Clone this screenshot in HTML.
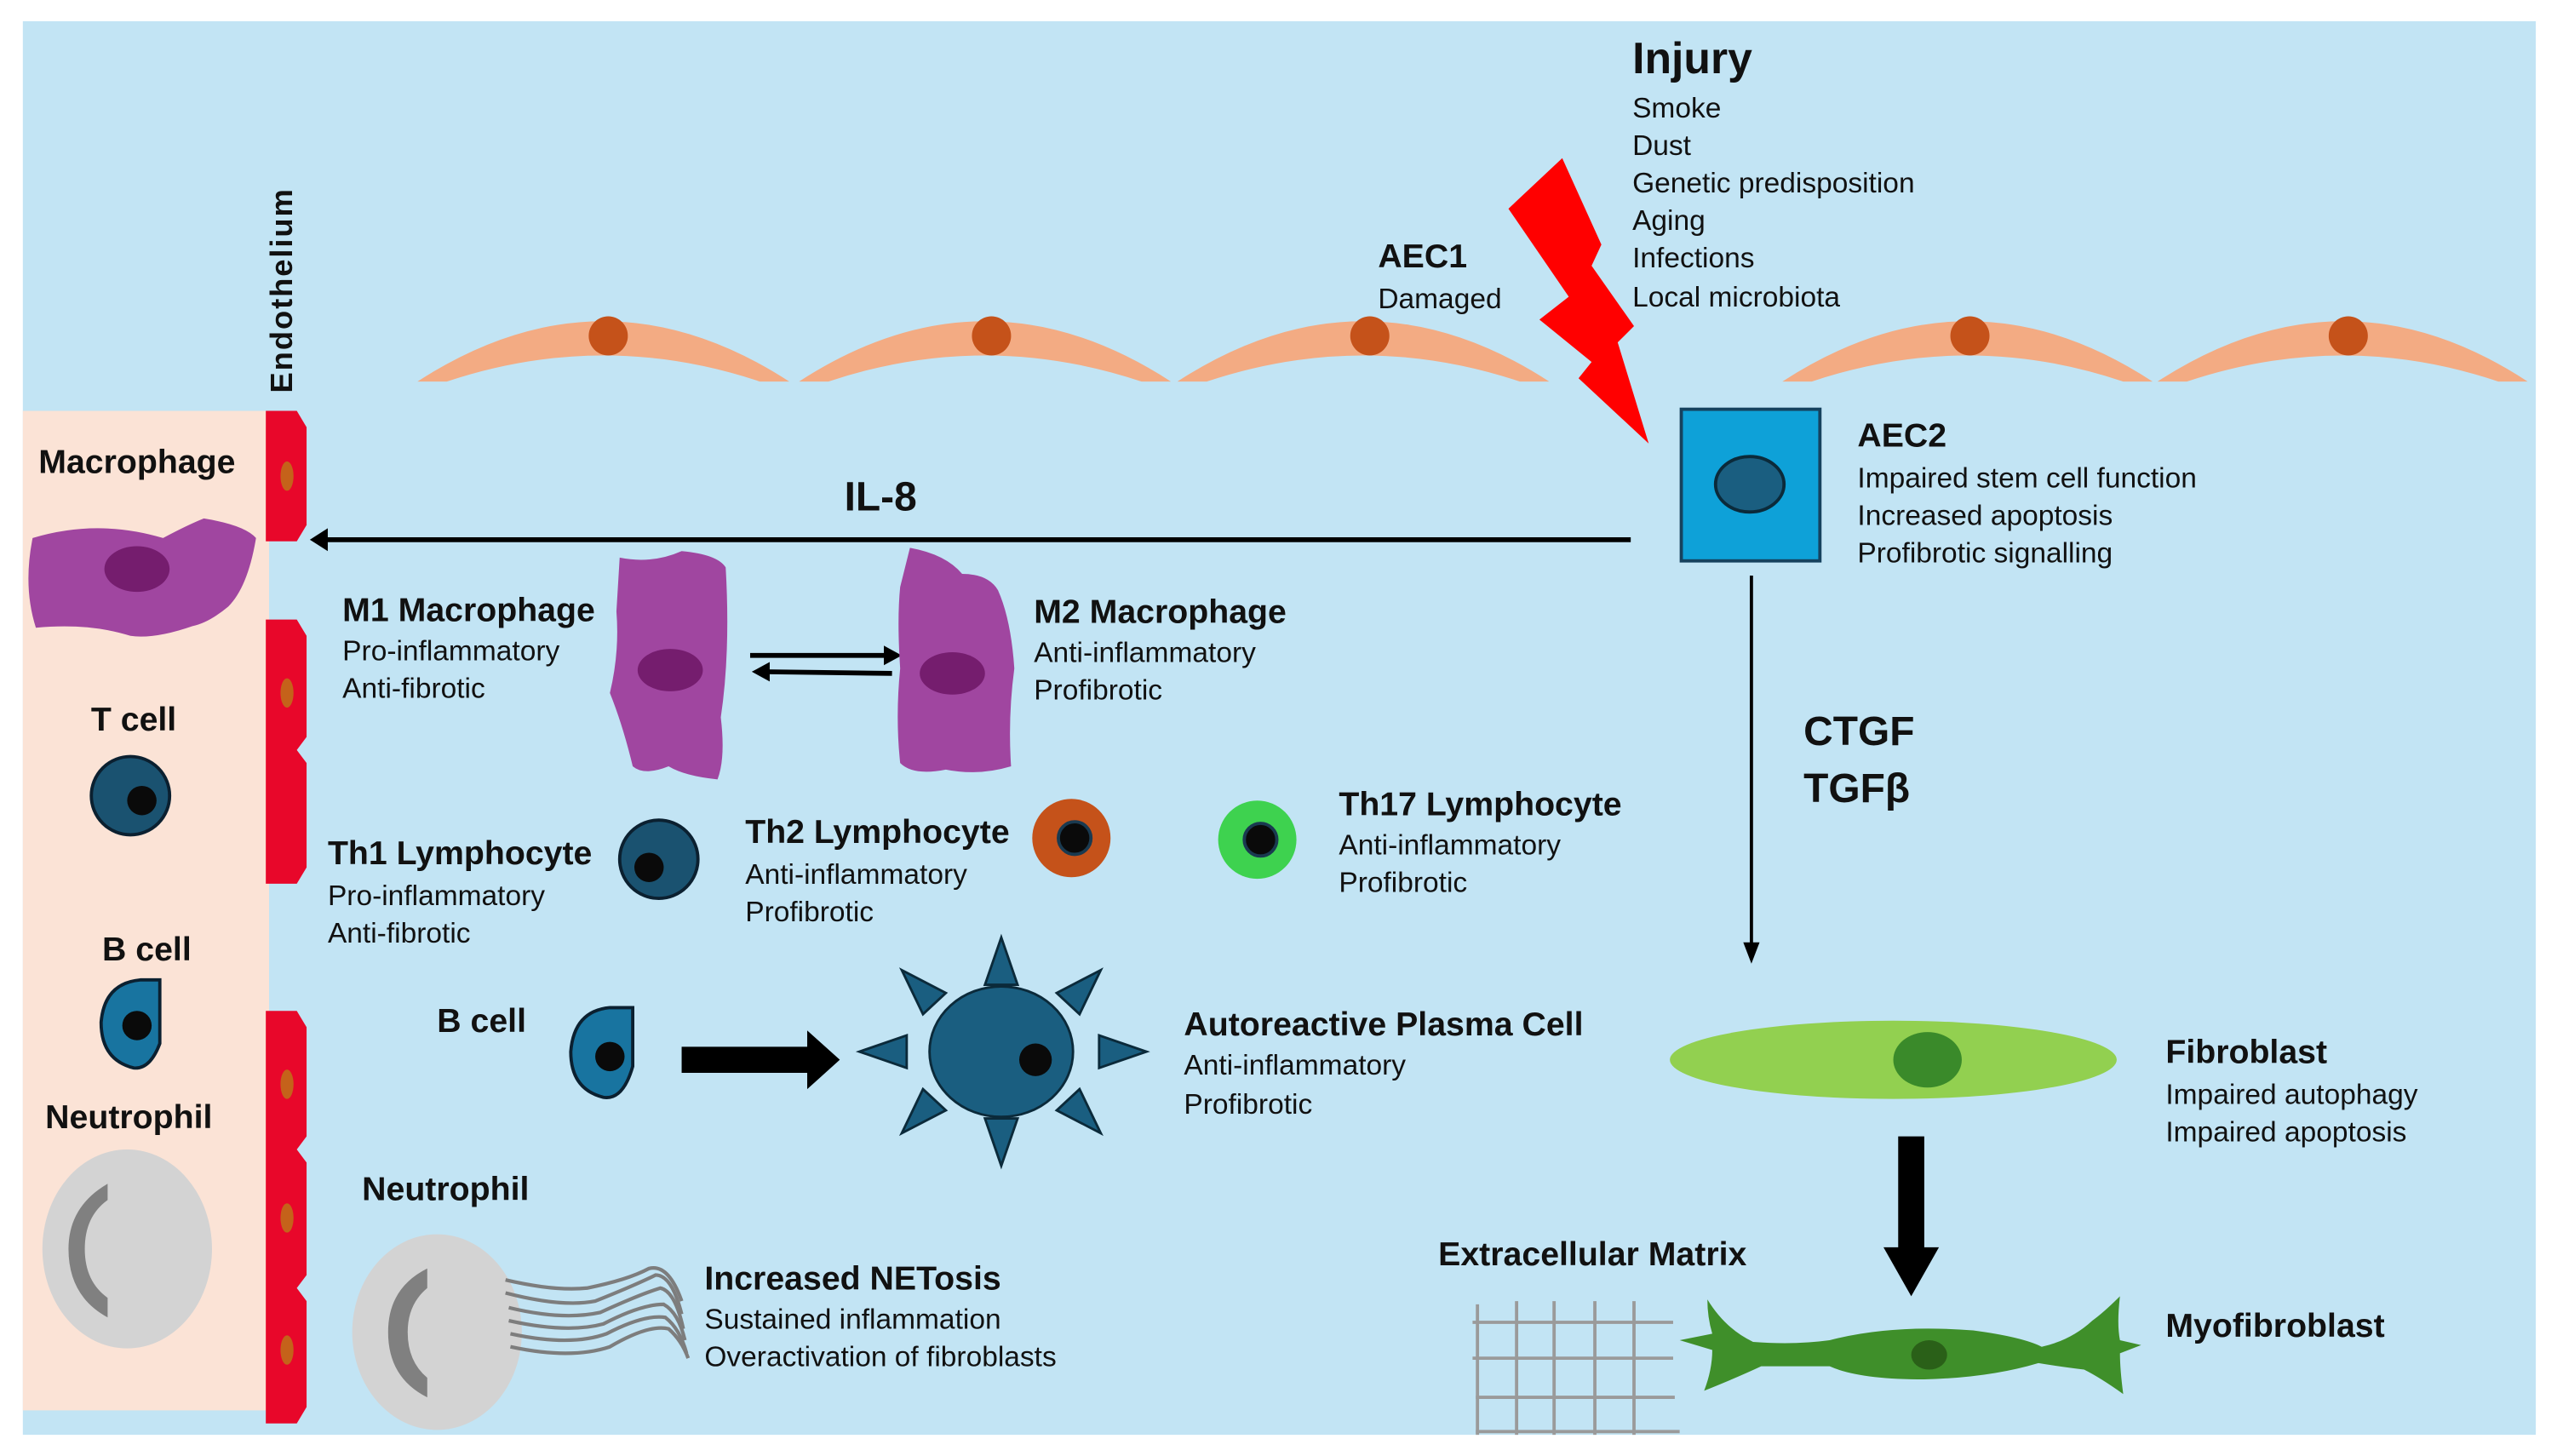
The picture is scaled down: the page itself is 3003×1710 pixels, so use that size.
<!DOCTYPE html>
<html><head><meta charset="utf-8"><style>
html,body{margin:0;padding:0;background:#fff;}
svg{display:block;}
text{font-family:"Liberation Sans",sans-serif;fill:#111;}
.b{font-weight:bold;font-size:20.5px;}
.t{font-size:17.5px;}
</style></head><body>
<svg width="3003" height="1710" viewBox="0 0 1568 893" preserveAspectRatio="none" xmlns="http://www.w3.org/2000/svg">
<rect x="0" y="0" width="1568" height="893" fill="#fff"/>
<rect x="14" y="13" width="1541" height="867" fill="#c2e4f4"/>
<rect x="14" y="252" width="151" height="613" fill="#fbe3d6"/>
<g fill="#e8072a">
<polygon points="163,252 182,252 188,262 188,322 182,332 163,332"/>
<polygon points="163,380 182,380 188,390 188,452 182,460 188,468 188,532 182,542 163,542"/>
<polygon points="163,620 182,620 188,630 188,697 182,705 188,713 188,782 182,790 188,798 188,863 182,873 163,873"/>
</g>
<g fill="#c5621a">
<ellipse cx="176" cy="292" rx="4" ry="9"/><ellipse cx="176" cy="425" rx="4" ry="9"/>
<ellipse cx="176" cy="665" rx="4" ry="9"/><ellipse cx="176" cy="747" rx="4" ry="9"/><ellipse cx="176" cy="828" rx="4" ry="9"/>
</g>
<text transform="translate(179,241) rotate(-90)" style="font-weight:bold;font-size:19px;letter-spacing:1px">Endothelium</text>
<g fill="#f3ab83">
<path d="M256,234 Q370,160 484,234 L466,234 Q370,202 274,234 Z"/>
<path d="M490,234 Q604,160 718,234 L700,234 Q604,202 508,234 Z"/>
<path d="M722,234 Q836,160 950,234 L932,234 Q836,202 740,234 Z"/>
<path d="M1093,234 Q1207,160 1320,234 L1302,234 Q1207,202 1111,234 Z"/>
<path d="M1323,234 Q1437,160 1550,234 L1532,234 Q1437,202 1341,234 Z"/>
</g>
<g fill="#c5521a">
<circle cx="373" cy="206" r="12"/><circle cx="608" cy="206" r="12"/><circle cx="840" cy="206" r="12"/><circle cx="1208" cy="206" r="12"/><circle cx="1440" cy="206" r="12"/>
</g>
<polygon points="958,97 925,128 962,182 944,196 976,222 968,232 1011,272 992,210 1002,200 976,163 982,150" fill="#ff0000"/>
<text x="1001" y="45" style="font-weight:bold;font-size:27px">Injury</text>
<g class="t"><text x="1001" y="72">Smoke</text><text x="1001" y="95">Dust</text><text x="1001" y="118">Genetic predisposition</text><text x="1001" y="141">Aging</text><text x="1001" y="164">Infections</text><text x="1001" y="188">Local microbiota</text></g>
<text x="845" y="164" class="b">AEC1</text><text x="845" y="189" class="t">Damaged</text>
<rect x="1031" y="251" width="85" height="93" fill="#0ea1d8" stroke="#16425e" stroke-width="2"/>
<ellipse cx="1073" cy="297" rx="21" ry="17" fill="#1a5e80" stroke="#0b2a3a" stroke-width="2"/>
<text x="1139" y="274" class="b">AEC2</text>
<g class="t"><text x="1139" y="299">Impaired stem cell function</text><text x="1139" y="322">Increased apoptosis</text><text x="1139" y="345">Profibrotic signalling</text></g>
<line x1="198" y1="331" x2="1000" y2="331" stroke="#000" stroke-width="3"/>
<polygon points="190,331 201,324 201,338" fill="#000"/>
<text x="540" y="313" text-anchor="middle" style="font-weight:bold;font-size:25px">IL-8</text>
<line x1="1074" y1="353" x2="1074" y2="582" stroke="#000" stroke-width="2"/>
<polygon points="1074,591 1069,578 1079,578" fill="#000"/>
<text x="1106" y="457" style="font-weight:bold;font-size:25px">CTGF</text><text x="1106" y="492" style="font-weight:bold;font-size:25px">TGFβ</text>
<text x="84" y="290" class="b" text-anchor="middle">Macrophage</text>
<path d="M20,330 Q60,318 100,330 Q115,322 125,318 Q150,322 157,330 Q152,360 140,372 Q128,382 118,384 Q95,392 80,390 Q55,382 22,385 Q14,360 20,330 Z" fill="#a046a0"/>
<ellipse cx="84" cy="349" rx="20" ry="14" fill="#751d6e"/>
<text x="82" y="448" class="b" text-anchor="middle">T cell</text>
<circle cx="80" cy="488" r="24" fill="#1a5270" stroke="#0b2030" stroke-width="2"/><circle cx="87" cy="491" r="9" fill="#0a0a0a"/>
<text x="90" y="589" class="b" text-anchor="middle">B cell</text>
<path d="M98,601 L98,640 Q92,656 82,655 Q62,650 62,627 Q64,603 86,601 Z" fill="#1874a0" stroke="#0b2030" stroke-width="2"/>
<circle cx="84" cy="629" r="9" fill="#0a0a0a"/>
<text x="79" y="692" class="b" text-anchor="middle">Neutrophil</text>
<ellipse cx="78" cy="766" rx="52" ry="61" fill="#d3d3d3"/>
<path d="M66,726 Q42,740 42,766 Q42,795 66,808 L66,796 Q52,786 52,766 Q52,746 66,736 Z" fill="#808080"/>
<text x="210" y="381" class="b">M1 Macrophage</text>
<g class="t"><text x="210" y="405">Pro-inflammatory</text><text x="210" y="428">Anti-fibrotic</text></g>
<path d="M380,342 Q400,346 418,338 Q440,340 445,348 Q448,400 442,440 Q445,465 440,478 Q420,476 410,470 Q395,476 388,470 Q382,445 374,425 Q380,400 378,375 Z" fill="#a046a0"/>
<ellipse cx="411" cy="411" rx="20" ry="13" fill="#751d6e"/>
<line x1="460" y1="402" x2="545" y2="402" stroke="#000" stroke-width="3"/><polygon points="553,402 542,396 542,408" fill="#000"/>
<line x1="469" y1="412" x2="547" y2="413" stroke="#000" stroke-width="3"/><polygon points="461,412 472,406 472,418" fill="#000"/>
<path d="M558,336 Q580,340 590,352 Q606,352 612,362 Q620,380 622,410 Q618,440 620,470 Q600,476 580,472 Q560,476 552,468 Q549,440 552,410 Q550,380 552,360 Z" fill="#a046a0"/>
<ellipse cx="584" cy="413" rx="20" ry="13" fill="#751d6e"/>
<text x="634" y="382" class="b">M2 Macrophage</text>
<g class="t"><text x="634" y="406">Anti-inflammatory</text><text x="634" y="429">Profibrotic</text></g>
<text x="201" y="530" class="b">Th1 Lymphocyte</text>
<g class="t"><text x="201" y="555">Pro-inflammatory</text><text x="201" y="578">Anti-fibrotic</text></g>
<circle cx="404" cy="527" r="24" fill="#1a5270" stroke="#0b2030" stroke-width="2"/><circle cx="398" cy="532" r="9" fill="#0a0a0a"/>
<text x="457" y="517" class="b">Th2 Lymphocyte</text>
<g class="t"><text x="457" y="542">Anti-inflammatory</text><text x="457" y="565">Profibrotic</text></g>
<circle cx="657" cy="514" r="24" fill="#c5521a"/><circle cx="659" cy="514" r="10" fill="#0a0a0a" stroke="#1a3a50" stroke-width="2"/>
<circle cx="771" cy="515" r="24" fill="#3ed24f"/><circle cx="773" cy="515" r="10" fill="#0a0a0a" stroke="#1a3a50" stroke-width="2"/>
<text x="821" y="500" class="b">Th17 Lymphocyte</text>
<g class="t"><text x="821" y="524">Anti-inflammatory</text><text x="821" y="547">Profibrotic</text></g>
<text x="268" y="633" class="b">B cell</text>
<path d="M388,618 L388,654 Q382,675 370,673 Q350,668 350,645 Q352,620 374,618 Z" fill="#1874a0" stroke="#0b2030" stroke-width="2"/>
<circle cx="374" cy="648" r="9" fill="#0a0a0a"/>
<polygon points="418,642 495,642 495,632 515,650 495,668 495,658 418,658" fill="#000"/>
<g fill="#1a5e80" stroke="#0b2a3a" stroke-width="1.5">
<polygon points="614,575 604,604 624,604"/><polygon points="614,715 604,686 624,686"/>
<polygon points="527,645 556,635 556,655"/><polygon points="703,645 674,635 674,655"/>
<polygon points="553,595 580,609 566,622"/><polygon points="675,595 648,609 662,622"/>
<polygon points="553,695 580,681 566,668"/><polygon points="675,695 648,681 662,668"/>
<ellipse cx="614" cy="645" rx="44" ry="40"/>
</g>
<circle cx="635" cy="650" r="10" fill="#0a0a0a"/>
<text x="726" y="635" class="b">Autoreactive Plasma Cell</text>
<g class="t"><text x="726" y="659">Anti-inflammatory</text><text x="726" y="683">Profibrotic</text></g>
<text x="222" y="736" class="b">Neutrophil</text>
<ellipse cx="268" cy="817" rx="52" ry="60" fill="#d3d3d3"/>
<path d="M262,778 Q238,790 238,817 Q238,845 262,857 L262,845 Q250,835 250,817 Q250,800 262,790 Z" fill="#808080"/>
<g fill="none" stroke="#7d7d7d" stroke-width="2.2">
<path d="M310,785 Q340,792 360,790 Q385,785 398,778 Q410,775 418,798"/>
<path d="M310,793 Q345,802 365,798 Q390,788 402,782 Q412,782 418,806"/>
<path d="M312,802 Q345,810 368,805 Q392,794 405,790 Q414,792 419,815"/>
<path d="M312,810 Q348,818 370,812 Q393,800 407,800 Q416,805 420,822"/>
<path d="M313,818 Q350,826 372,818 Q395,806 408,808 Q417,815 421,830"/>
<path d="M313,826 Q350,834 374,826 Q398,812 410,815 Q418,822 422,833"/>
</g>
<text x="432" y="791" class="b">Increased NETosis</text>
<g class="t"><text x="432" y="815">Sustained inflammation</text><text x="432" y="838">Overactivation of fibroblasts</text></g>
<ellipse cx="1161" cy="650" rx="137" ry="24" fill="#92d050"/>
<ellipse cx="1182" cy="650" rx="21" ry="17" fill="#3a8a2a"/>
<text x="1328" y="652" class="b">Fibroblast</text>
<g class="t"><text x="1328" y="677">Impaired autophagy</text><text x="1328" y="700">Impaired apoptosis</text></g>
<polygon points="1164,697 1180,697 1180,765 1189,765 1172,795 1155,765 1164,765" fill="#000"/>
<text x="882" y="776" class="b">Extracellular Matrix</text>
<g stroke="#9a9a9a" stroke-width="2">
<line x1="906" y1="800" x2="906" y2="880"/><line x1="930" y1="798" x2="930" y2="880"/><line x1="953" y1="798" x2="953" y2="880"/><line x1="978" y1="798" x2="978" y2="880"/><line x1="1002" y1="798" x2="1002" y2="880"/>
<line x1="903" y1="811" x2="1026" y2="811"/><line x1="903" y1="833" x2="1026" y2="833"/><line x1="905" y1="857" x2="1027" y2="857"/><line x1="905" y1="878" x2="1030" y2="878"/>
</g>
<path d="M1030,822 L1050,818 Q1047,808 1047,797 Q1058,815 1075,823 Q1100,825 1122,822 Q1160,812 1210,816 Q1240,820 1252,826 Q1270,822 1283,810 Q1290,805 1300,795 Q1298,812 1300,822 L1313,825 L1300,830 Q1300,840 1302,855 Q1288,845 1278,840 Q1262,838 1250,836 Q1220,845 1180,846 Q1140,846 1122,838 Q1095,838 1080,838 Q1065,845 1045,853 Q1050,840 1050,828 Z" fill="#3f8f2a"/>
<ellipse cx="1183" cy="831" rx="11" ry="9" fill="#2a6018"/>
<text x="1328" y="820" class="b">Myofibroblast</text>
</svg>
</body></html>
